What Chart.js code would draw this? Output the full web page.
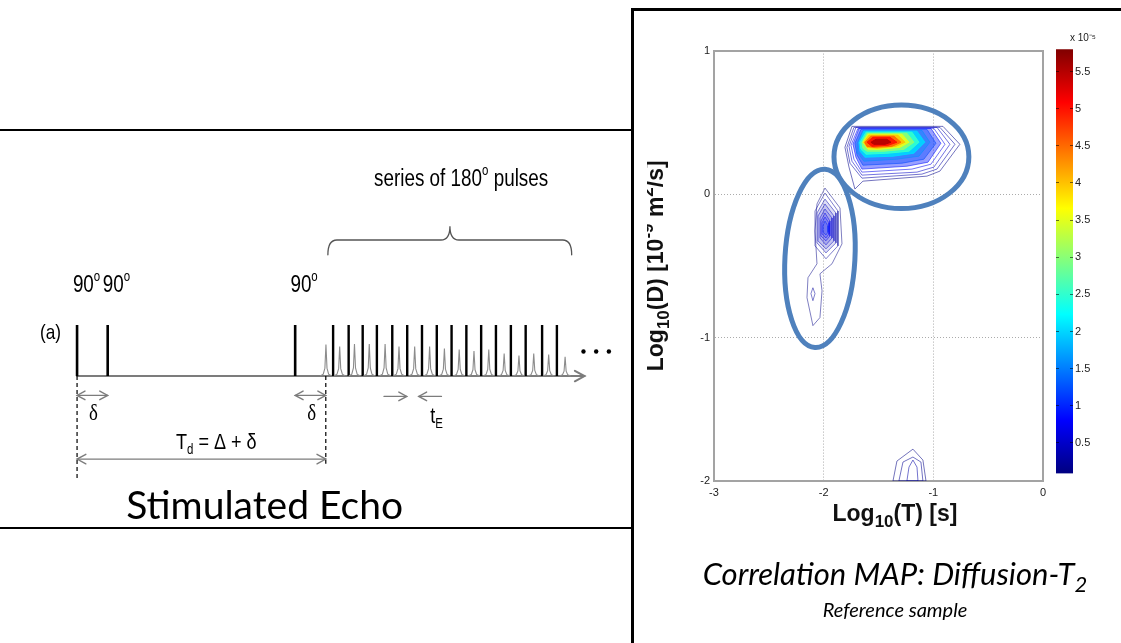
<!DOCTYPE html>
<html>
<head>
<meta charset="utf-8">
<title>Stimulated echo and Diffusion-T2 map</title>
<script src="https://cdn.jsdelivr.net/npm/chart.js@4.4.1/dist/chart.umd.min.js"></script>
<style>
  html, body { margin: 0; padding: 0; background: #fff; width: 1121px; height: 643px; overflow: hidden; }
  .box { position: absolute; box-sizing: border-box; }
  #leftBox { left: -4px; top: 129px; width: 638px; height: 400px; border: 2px solid #000; }
  #rightBox { left: 631px; top: 8px; width: 540px; height: 680px; border: 3px solid #000; }
  canvas { position: absolute; }
  #seqChart { left: 0; top: 130px; }
  #mapChart { left: 647px; top: 40px; }
  #barChart { left: 1050px; top: 0; }
</style>
</head>
<body>
<div id="leftBox" class="box"></div>
<div id="rightBox" class="box"></div>
<canvas id="seqChart" width="633" height="398"></canvas>
<canvas id="mapChart" width="450" height="583"></canvas>
<canvas id="barChart" width="46" height="482"></canvas>
<script>
// ---- pulse sequence (time in units of the echo spacing tE, pulse height = 1) ----
const pulse90Times = [0, 2.05, 14.6];
const pulse180Times = [17.14, 18.18, 19.12, 20.07, 21.10, 22.10, 23.09, 24.08, 25.07, 26.06, 27.05, 28.04, 29.04, 30.03, 31.13, 32.12];
const echoTimes = [16.66, 17.58, 18.57, 19.56, 20.62, 21.55, 22.60, 23.60, 24.59, 25.58, 26.57, 27.56, 28.59, 29.58, 30.57, 31.57, 32.67];
const echoHeights = [0.62, 0.58, 0.63, 0.63, 0.63, 0.58, 0.58, 0.58, 0.54, 0.52, 0.49, 0.52, 0.44, 0.40, 0.44, 0.42, 0.38];
const markerTimes = [0, 16.65];
const markerDepths = [-2.06, -1.72];
const moreTimes = [33.9, 34.75, 35.6];

// ---- Diffusion-T2 map: x = log10(T) [s], y = log10(D), amplitude in 1e-5 ----
const colorRange = [0.09, 5.8];
const colorTicks = [0.5, 1, 1.5, 2, 2.5, 3, 3.5, 4, 4.5, 5, 5.5];
const xTicks = [-3, -2, -1, 0];
const yTicks = [-2, -1, 0, 1];

const mainLevels = [0.15, 0.3, 0.5, 0.7, 0.9, 1.2, 1.6, 2.0, 2.5, 3.0, 3.5, 4.0, 4.5, 5.0, 5.5];
const mainContours = [
  [[-1.806, 0.326], [-1.742, 0.472], [-0.912, 0.472], [-0.758, 0.347], [-0.940, 0.160], [-1.058, 0.125], [-1.642, 0.090], [-1.715, 0.035], [-1.769, 0.188]],
  [[-1.788, 0.326], [-1.724, 0.465], [-0.940, 0.465], [-0.803, 0.347], [-0.967, 0.174], [-1.104, 0.139], [-1.651, 0.111], [-1.760, 0.215]],
  [[-1.769, 0.333], [-1.706, 0.465], [-0.967, 0.465], [-0.849, 0.347], [-0.995, 0.188], [-1.149, 0.153], [-1.651, 0.132], [-1.742, 0.229]],
  [[-1.751, 0.340], [-1.687, 0.458], [-0.995, 0.458], [-0.894, 0.347], [-1.022, 0.208], [-1.195, 0.174], [-1.651, 0.153], [-1.724, 0.243]],
  [[-1.733, 0.347], [-1.678, 0.458], [-1.022, 0.458], [-0.931, 0.354], [-1.049, 0.222], [-1.241, 0.194], [-1.651, 0.174], [-1.706, 0.257]],
  [[-1.715, 0.354], [-1.660, 0.451], [-1.058, 0.451], [-0.976, 0.354], [-1.086, 0.243], [-1.286, 0.215], [-1.642, 0.201], [-1.696, 0.271]],
  [[-1.696, 0.354], [-1.642, 0.444], [-1.104, 0.444], [-1.031, 0.361], [-1.131, 0.264], [-1.332, 0.243], [-1.633, 0.229], [-1.687, 0.285]],
  [[-1.678, 0.361], [-1.633, 0.438], [-1.149, 0.438], [-1.077, 0.361], [-1.177, 0.285], [-1.368, 0.264], [-1.624, 0.257], [-1.669, 0.299]],
  [[-1.669, 0.361], [-1.614, 0.431], [-1.195, 0.431], [-1.131, 0.361], [-1.222, 0.299], [-1.414, 0.285], [-1.614, 0.278], [-1.660, 0.312]],
  [[-1.651, 0.361], [-1.605, 0.424], [-1.241, 0.424], [-1.177, 0.361], [-1.268, 0.312], [-1.450, 0.299], [-1.605, 0.299], [-1.642, 0.319]],
  [[-1.642, 0.361], [-1.596, 0.417], [-1.286, 0.417], [-1.222, 0.361], [-1.304, 0.326], [-1.487, 0.312], [-1.596, 0.312]],
  [[-1.633, 0.361], [-1.587, 0.410], [-1.323, 0.410], [-1.259, 0.361], [-1.341, 0.333], [-1.514, 0.319], [-1.605, 0.326]],
  [[-1.624, 0.361], [-1.569, 0.403], [-1.359, 0.403], [-1.295, 0.361], [-1.377, 0.333], [-1.541, 0.326], [-1.605, 0.333]],
  [[-1.605, 0.361], [-1.551, 0.396], [-1.396, 0.396], [-1.332, 0.361], [-1.414, 0.340], [-1.560, 0.333]],
  [[-1.569, 0.361], [-1.523, 0.382], [-1.423, 0.382], [-1.386, 0.361], [-1.441, 0.347], [-1.541, 0.347]]
];

const sideLevels = [0.12, 0.25, 0.25, 0.35, 0.45, 0.55, 0.7, 0.85, 1.0];
const sideContours = [
  [[-1.988, 0.042], [-1.851, -0.097], [-1.833, -0.347], [-1.924, -0.486], [-2.034, -0.556], [-2.015, -0.674], [-2.034, -0.861], [-2.098, -0.917], [-2.152, -0.722], [-2.143, -0.583], [-2.061, -0.486], [-2.079, -0.257], [-2.061, -0.069]],
  [[-2.098, -0.653], [-2.079, -0.694], [-2.098, -0.743], [-2.116, -0.694]],
  [[-1.988, 0.007], [-1.870, -0.118], [-1.870, -0.361], [-1.979, -0.451], [-2.079, -0.361], [-2.079, -0.118]],
  [[-1.988, -0.035], [-1.888, -0.132], [-1.888, -0.340], [-1.979, -0.410], [-2.061, -0.340], [-2.061, -0.132]],
  [[-1.988, -0.069], [-1.906, -0.153], [-1.906, -0.326], [-1.979, -0.382], [-2.052, -0.326], [-2.052, -0.153]],
  [[-1.988, -0.104], [-1.924, -0.167], [-1.924, -0.306], [-1.979, -0.354], [-2.034, -0.306], [-2.034, -0.167]],
  [[-1.988, -0.132], [-1.943, -0.188], [-1.943, -0.292], [-1.979, -0.326], [-2.025, -0.292], [-2.025, -0.188]],
  [[-1.988, -0.160], [-1.952, -0.201], [-1.952, -0.278], [-1.979, -0.306], [-2.015, -0.278], [-2.015, -0.201]],
  [[-1.988, -0.188], [-1.961, -0.222], [-1.961, -0.264], [-1.979, -0.285], [-2.006, -0.264], [-2.006, -0.222]]
];

const tailLevels = [0.12, 0.2, 0.3];
const tailContours = [
  [[-1.368, -2.0], [-1.332, -1.861], [-1.186, -1.778], [-1.095, -1.854], [-1.067, -2.0]],
  [[-1.314, -2.0], [-1.277, -1.868], [-1.186, -1.833], [-1.113, -1.868], [-1.095, -2.0]],
  [[-1.241, -2.0], [-1.222, -1.903], [-1.186, -1.854], [-1.149, -1.903], [-1.140, -2.0]]
];

// hand-drawn marks around the two populations (data units)
const regionEllipses = [
  { cx: -1.291, cy: 0.260, rx: 0.615, ry: 0.361, rot: 0 },
  { cx: -2.034, cy: -0.448, rx: 0.319, ry: 0.622, rot: 0.056 }
];

const sans = "'Liberation Sans', Arial, sans-serif";
const serif = "'Liberation Serif', 'Times New Roman', serif";
const calibriLike = "Lato, 'Open Sans', sans-serif";

// jet colour map, t in [0, 1]
function jet(t) {
  const f = k => Math.round(255 * Math.max(0, Math.min(1, 1.5 - Math.abs(4 * t - k))));
  return [f(3), f(2), f(1)];
}
function rgba(c, a) {
  return `rgba(${c[0]},${c[1]},${c[2]},${a})`;
}
function levelColor(v) {
  return jet((v - colorRange[0]) / (colorRange[1] - colorRange[0]));
}

// text with sub/superscripts: parts = [[text, 'sub'|'sup'|undefined], ...]
// font.sx squeezes the text horizontally (the original uses a narrow face)
function drawRich(ctx, parts, x, y, font, align) {
  const base = font.size, sx = font.sx || 1;
  const fontFor = kind => `${font.style || 'normal'} ${font.weight || 'normal'} ${kind ? Math.round(base * (font.subScale || 0.62)) : base}px ${font.family}`;
  const widths = parts.map(([s, kind]) => { ctx.font = fontFor(kind); return ctx.measureText(s).width; });
  const total = widths.reduce((a, b) => a + b, 0) * sx;
  const x0 = align === 'left' ? x : align === 'right' ? x - total : x - total / 2;
  ctx.save();
  ctx.translate(x0, y);
  ctx.scale(sx, 1);
  ctx.textAlign = 'left';
  ctx.textBaseline = 'middle';
  ctx.fillStyle = font.color || '#000';
  let cx = 0;
  parts.forEach(([s, kind], i) => {
    ctx.font = fontFor(kind);
    const dy = kind === 'sub' ? base * 0.33 : kind === 'sup' ? -base * 0.36 : 0;
    ctx.fillText(s, cx, dy);
    cx += widths[i];
  });
  ctx.restore();
}

function drawArrow(ctx, x1, y1, x2, y2, heads, size) {
  ctx.beginPath();
  ctx.moveTo(x1, y1);
  ctx.lineTo(x2, y2);
  ctx.stroke();
  const head = (x, y, a) => {
    ctx.beginPath();
    ctx.moveTo(x - size * Math.cos(a - 0.5), y - size * Math.sin(a - 0.5));
    ctx.lineTo(x, y);
    ctx.lineTo(x - size * Math.cos(a + 0.5), y - size * Math.sin(a + 0.5));
    ctx.stroke();
  };
  const ang = Math.atan2(y2 - y1, x2 - x1);
  if (heads === 'end' || heads === 'both') head(x2, y2, ang);
  if (heads === 'both') head(x1, y1, ang + Math.PI);
}

// ================= left panel: stimulated echo sequence =================
const echoShape = [[-0.38, 0], [-0.18, 0.06], [-0.07, 0.25], [0, 1], [0.07, 0.25], [0.18, 0.06], [0.38, 0]];
const gap = t => ({ x: t, y: null });
const spikes = times => times.flatMap(t => [{ x: t, y: 0 }, { x: t, y: 1 }, gap(t)]);
const echoPoints = echoTimes.flatMap((t, i) =>
  echoShape.map(([dt, f]) => ({ x: t + dt, y: f * echoHeights[i] })).concat([gap(t)]));
const markerPoints = markerTimes.flatMap((t, i) => [{ x: t, y: 0 }, { x: t, y: markerDepths[i] }, gap(t)]);

const seqArrows = [
  { from: [0, 0], to: [33.97, 0], heads: 'end', width: 2, size: 11 },
  { from: [0, -0.38], to: [2.05, -0.38], heads: 'both', width: 1.4, size: 9 },
  { from: [14.6, -0.38], to: [16.65, -0.38], heads: 'both', width: 1.4, size: 9 },
  { from: [20.55, -0.4], to: [22.07, -0.4], heads: 'end', width: 1.4, size: 9 },
  { from: [24.39, -0.4], to: [22.87, -0.4], heads: 'end', width: 1.4, size: 9 },
  { from: [0, -1.63], to: [16.65, -1.63], heads: 'both', width: 1.4, size: 10 }
];
const brace = { from: 16.79, to: 33.11, tip: 24.96, end: 2.38, flat: 2.67, peak: 2.94 };
const label = (size, family) => ({ size, family: family || sans, sx: 0.82 });
const seqTexts = [
  { parts: [['(a)']], at: [-1.78, 0.85], align: 'center', font: label(21) },
  { parts: [['90'], ['o', 'sup']], at: [-0.28, 1.77], align: 'left', font: label(23) },
  { parts: [['90'], ['o', 'sup']], at: [1.72, 1.77], align: 'left', font: label(23) },
  { parts: [['90'], ['o', 'sup']], at: [14.28, 1.77], align: 'left', font: label(23) },
  { parts: [['series of 180'], ['o', 'sup'], [' pulses']], at: [25.71, 3.85], align: 'center', font: label(23) },
  { parts: [['δ']], at: [1.1, -0.74], align: 'center', font: label(23, serif) },
  { parts: [['δ']], at: [15.71, -0.74], align: 'center', font: label(23, serif) },
  { parts: [['t'], ['E', 'sub']], at: [24.06, -0.8], align: 'center', font: label(22) },
  { parts: [['T'], ['d', 'sub'], [' = Δ + δ']], at: [9.32, -1.31], align: 'center', font: label(22) },
  { parts: [['Stimulated Echo']], at: [12.56, -2.56], align: 'center', font: { size: 39, family: calibriLike } }
];

const seqOverlay = {
  id: 'seqOverlay',
  beforeDatasetsDraw(chart) {
    const { ctx, scales: { x, y } } = chart;
    const px = v => x.getPixelForValue(v), py = v => y.getPixelForValue(v);
    ctx.save();
    ctx.strokeStyle = '#7c7c7c';
    ctx.lineCap = 'round';
    seqArrows.forEach(a => {
      ctx.lineWidth = a.width;
      drawArrow(ctx, px(a.from[0]), py(a.from[1]), px(a.to[0]), py(a.to[1]), a.heads, a.size);
    });
    // curly brace over the 180 degree pulse train
    const xl = px(brace.from), xr = px(brace.to), xm = px(brace.tip);
    const ye = py(brace.end), yf = py(brace.flat), yp = py(brace.peak), r = 9;
    ctx.strokeStyle = '#555';
    ctx.lineWidth = 1.3;
    ctx.beginPath();
    ctx.moveTo(xl, ye);
    ctx.quadraticCurveTo(xl, yf, xl + r, yf);
    ctx.lineTo(xm - r, yf);
    ctx.quadraticCurveTo(xm, yf, xm, yp);
    ctx.quadraticCurveTo(xm, yf, xm + r, yf);
    ctx.lineTo(xr - r, yf);
    ctx.quadraticCurveTo(xr, yf, xr, ye);
    ctx.stroke();
    ctx.restore();
  },
  afterDatasetsDraw(chart) {
    const { ctx, scales: { x, y } } = chart;
    seqTexts.forEach(t => drawRich(ctx, t.parts, x.getPixelForValue(t.at[0]), y.getPixelForValue(t.at[1]), t.font, t.align));
  }
};

new Chart(document.getElementById('seqChart'), {
  type: 'scatter',
  data: {
    datasets: [
      { type: 'line', data: echoPoints, borderColor: '#8c8c8c', borderWidth: 1.1, pointRadius: 0 },
      { type: 'line', data: spikes(pulse90Times), borderColor: '#000', borderWidth: 2.6, pointRadius: 0 },
      { type: 'line', data: spikes(pulse180Times), borderColor: '#000', borderWidth: 2.4, pointRadius: 0 },
      { type: 'line', data: markerPoints, borderColor: '#000', borderWidth: 1.2, borderDash: [4, 3], pointRadius: 0 },
      { type: 'scatter', data: moreTimes.map(t => ({ x: t, y: 0.48 })), pointRadius: 2.2, pointBackgroundColor: '#000', pointBorderWidth: 0 }
    ]
  },
  options: {
    responsive: false,
    animation: false,
    events: [],
    layout: { padding: 0 },
    scales: {
      x: { type: 'linear', display: false, min: -4.891, max: 36.947 },
      y: { type: 'linear', display: false, min: -2.904, max: 4.75 }
    },
    plugins: { legend: { display: false }, tooltip: { enabled: false } }
  },
  plugins: [seqOverlay]
});

// ================= right panel: correlation map =================
// style: { fillFrom, fillLow, fillHigh, lineAlpha } - fills below level 2 stay pale
function contourDatasets(levels, contours, style) {
  return contours.map((poly, i) => {
    const level = levels[i];
    const c = levelColor(level);
    const filled = level >= style.fillFrom;
    return {
      type: 'line',
      data: poly.concat([poly[0]]).map(([x, y]) => ({ x, y })),
      borderColor: rgba(c, level >= 2 ? 1 : style.lineAlpha),
      backgroundColor: rgba(c, level >= 2 ? style.fillHigh : style.fillLow),
      fill: filled ? 'shape' : false,
      borderWidth: 1,
      pointRadius: 0,
      tension: 0,
      order: -level
    };
  });
}

const mapOverlay = {
  id: 'mapOverlay',
  afterDatasetsDraw(chart) {
    const { ctx, scales: { x, y } } = chart;
    ctx.save();
    ctx.strokeStyle = '#4f81bd';
    ctx.lineWidth = 5;
    regionEllipses.forEach(e => {
      const cx = x.getPixelForValue(e.cx), cy = y.getPixelForValue(e.cy);
      const rx = Math.abs(x.getPixelForValue(e.cx + e.rx) - cx);
      const ry = Math.abs(y.getPixelForValue(e.cy + e.ry) - cy);
      ctx.beginPath();
      ctx.ellipse(cx, cy, rx, ry, e.rot, 0, Math.PI * 2);
      ctx.stroke();
    });
    ctx.restore();
  },
  afterDraw(chart) {
    const { ctx, chartArea: a } = chart;
    const cx = a.left + 0.55 * (a.right - a.left);
    const axisFont = size => ({ size, weight: 'bold', family: sans, color: '#111', subScale: 0.72 });
    drawRich(ctx, [['Log'], ['10', 'sub'], ['(T) [s]']], cx, a.bottom + 34, axisFont(23), 'center');
    ctx.save();
    ctx.translate(a.left - 57, (a.top + a.bottom) / 2);
    ctx.rotate(-Math.PI / 2);
    drawRich(ctx, [['Log'], ['10', 'sub'], ['(D) [10'], ['-9', 'sup'], [' m'], ['2', 'sup'], ['/s]']], 0, 0, axisFont(23), 'center');
    ctx.restore();
    drawRich(ctx, [['Correlation MAP: Diffusion-T'], ['2', 'sub']], cx, a.bottom + 94,
      { size: 31, style: 'italic', family: calibriLike, subScale: 0.7 }, 'center');
    drawRich(ctx, [['Reference sample']], cx, a.bottom + 130,
      { size: 20, style: 'italic', family: calibriLike }, 'center');
  }
};

const frameColor = '#a3a3a3';
const innerGrid = (lo, hi) => c => (c.tick && c.tick.value > lo && c.tick.value < hi) ? 'rgba(150,150,150,0.8)' : 'rgba(0,0,0,0)';

new Chart(document.getElementById('mapChart'), {
  type: 'scatter',
  data: {
    datasets: [
      ...contourDatasets(tailLevels, tailContours, { fillFrom: 99, fillLow: 0, fillHigh: 0, lineAlpha: 0.55 }),
      ...contourDatasets(sideLevels, sideContours, { fillFrom: 0.35, fillLow: 0.13, fillHigh: 0.13, lineAlpha: 0.5 }),
      ...contourDatasets(mainLevels, mainContours, { fillFrom: 0.9, fillLow: 0.4, fillHigh: 0.92, lineAlpha: 0.55 })
    ]
  },
  options: {
    responsive: false,
    animation: false,
    events: [],
    layout: { padding: { top: 9, right: 54, bottom: 98, left: 0 } },
    scales: {
      x: {
        type: 'linear', position: 'bottom', min: xTicks[0], max: xTicks[xTicks.length - 1],
        afterBuildTicks: s => { s.ticks = xTicks.map(v => ({ value: v })); },
        ticks: { font: { size: 11, family: sans }, color: '#222', padding: 5, maxRotation: 0 },
        grid: { color: innerGrid(-3, 0), drawTicks: false, lineWidth: 1 },
        border: { color: frameColor, width: 2, dash: [1, 2] },
        afterFit: s => { s.height = 44; }
      },
      y: {
        type: 'linear', position: 'left', min: yTicks[0], max: yTicks[yTicks.length - 1],
        afterBuildTicks: s => { s.ticks = yTicks.map(v => ({ value: v })); },
        ticks: { font: { size: 11, family: sans }, color: '#222', padding: 4 },
        grid: { color: innerGrid(-2, 1), drawTicks: false, lineWidth: 1 },
        border: { color: frameColor, width: 2, dash: [1, 2] },
        afterFit: s => { s.width = 67; }
      },
      xTop: {
        type: 'linear', position: 'top', ticks: { display: false },
        grid: { display: false, drawTicks: false }, border: { color: frameColor, width: 2 },
        afterFit: s => { s.height = 0; }
      },
      yRight: {
        type: 'linear', position: 'right', ticks: { display: false },
        grid: { display: false, drawTicks: false }, border: { color: frameColor, width: 2 },
        afterFit: s => { s.width = 0; }
      }
    },
    plugins: { legend: { display: false }, tooltip: { enabled: false } }
  },
  plugins: [mapOverlay]
});

// ================= colour bar =================
function jetGradient(context) {
  const { chart } = context;
  const area = chart.chartArea;
  if (!area) return null;
  const g = chart.ctx.createLinearGradient(0, area.bottom, 0, area.top);
  for (let i = 0; i <= 16; i++) g.addColorStop(i / 16, rgba(jet(i / 16), 1));
  return g;
}

new Chart(document.getElementById('barChart'), {
  type: 'bar',
  data: {
    labels: [''],
    datasets: [{ data: [colorRange], backgroundColor: jetGradient, borderWidth: 0, barPercentage: 1, categoryPercentage: 1 }]
  },
  options: {
    responsive: false,
    animation: false,
    events: [],
    layout: { padding: { left: 6, right: 0, top: 0, bottom: 0 } },
    scales: {
      x: { display: false },
      y: {
        position: 'right', min: colorRange[0], max: colorRange[1],
        afterBuildTicks: s => { s.ticks = colorTicks.map(v => ({ value: v })); },
        ticks: { font: { size: 11, family: sans }, color: '#222', padding: 2, callback: v => String(v) },
        grid: { display: true, drawOnChartArea: true, drawTicks: false, color: 'rgba(0,0,0,0.55)', z: 1 },
        border: { display: false, dash: [3, 11] },
        afterFit: s => { s.width = 23; }
      }
    },
    plugins: {
      legend: { display: false },
      tooltip: { enabled: false },
      title: {
        display: true, text: 'x 10⁻⁵', align: 'end', color: '#222',
        font: { size: 10, family: sans, weight: 'normal' }, padding: { top: 32.6, bottom: 4.6 }
      }
    }
  }
});
</script>
</body>
</html>
